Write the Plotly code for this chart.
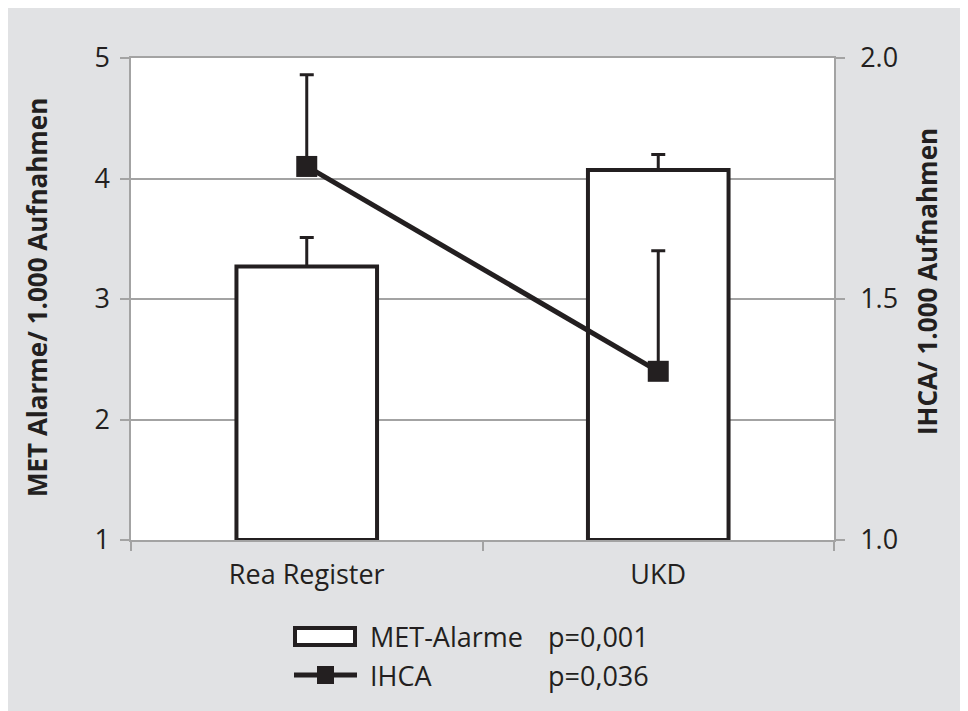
import numpy as np
import plotly.graph_objects as go

# ---- data ----
categories = ["Rea Register", "UKD"]
met_values = [3.27, 4.07]          # MET Alarme / 1.000 Aufnahmen (left axis)
met_err_plus = [0.24, 0.13]
ihca_values = [1.775, 1.35]        # IHCA / 1.000 Aufnahmen (right axis)
ihca_err_plus = [0.19, 0.25]
left_ticks = [1, 2, 3, 4, 5]
right_ticks = [1.0, 1.5, 2.0]
legend_labels = ["MET-Alarme", "IHCA"]
p_values = ["p=0,001", "p=0,036"]

DARK = "#231f20"
GRID = "#a3a3a3"
BG = "#e1e2e4"
FONT = "Open Sans"

OFF = 8                       # page body margin
W, H = 960, 703
L, R, T, B = 131, 834, 58, 540   # plot area in page pixels


def px(x):
    return (x - L) / (R - L)


def py(y):
    return (B - y) / (B - T)


base = left_ticks[0]
fig = go.Figure()
fig.add_trace(go.Bar(
    x=categories,
    y=np.array(met_values) - base,
    base=base,
    width=0.4,
    marker=dict(color="white", line=dict(color=DARK, width=4)),
    error_y=dict(type="data", symmetric=False, array=met_err_plus,
                 arrayminus=[0, 0], color=DARK, thickness=3, width=7),
    name=legend_labels[0],
    showlegend=False,
))
fig.add_trace(go.Scatter(
    x=categories,
    y=ihca_values,
    yaxis="y2",
    mode="lines+markers",
    line=dict(color=DARK, width=5),
    marker=dict(symbol="square", size=21, color=DARK),
    error_y=dict(type="data", symmetric=False, array=ihca_err_plus,
                 arrayminus=[0, 0], color=DARK, thickness=3, width=7),
    name=legend_labels[1],
    showlegend=False,
))

shapes = [
    # legend symbols
    dict(type="rect", xref="paper", yref="paper", x0=px(295), x1=px(355), y0=py(645), y1=py(628),
         fillcolor="white", line=dict(color=DARK, width=4)),
    dict(type="line", xref="paper", yref="paper", x0=px(294), x1=px(357), y0=py(675), y1=py(675),
         line=dict(color=DARK, width=5)),
    dict(type="rect", xref="paper", yref="paper", x0=px(317), x1=px(334), y0=py(684), y1=py(666),
         fillcolor=DARK, line=dict(width=0)),
]

annotations = []
for i, (lab, pv) in enumerate(zip(legend_labels, p_values)):
    yc = py(636 + i * 39)
    annotations.append(dict(text=lab, xref="paper", yref="paper", x=px(368), y=yc,
                            xanchor="left", yanchor="middle", showarrow=False,
                            font=dict(family=FONT, size=27, color=DARK)))
    annotations.append(dict(text=pv, xref="paper", yref="paper", x=px(546), y=yc,
                            xanchor="left", yanchor="middle", showarrow=False,
                            font=dict(family=FONT, size=27, color=DARK)))
annotations.append(dict(text="MET Alarme/ 1.000 Aufnahmen", xref="paper", yref="paper",
                        x=px(37), y=py(298), textangle=-90, xanchor="center", yanchor="middle",
                        showarrow=False, font=dict(family=FONT, size=26, color=DARK, weight="bold")))
annotations.append(dict(text="IHCA/ 1.000 Aufnahmen", xref="paper", yref="paper",
                        x=px(927), y=py(282), textangle=-90, xanchor="center", yanchor="middle",
                        showarrow=False, font=dict(family=FONT, size=26, color=DARK, weight="bold")))

tickfont = dict(family=FONT, size=27, color=DARK)
fig.update_layout(
    width=W, height=H,
    margin=dict(l=L - OFF, r=W - (R - OFF), t=T - OFF, b=H - (B - OFF), pad=0),
    paper_bgcolor=BG, plot_bgcolor="white",
    showlegend=False,
    shapes=shapes, annotations=annotations,
    xaxis=dict(type="category", range=[-0.5, 1.5], showgrid=False, showline=True,
               linecolor=GRID, linewidth=1.5, mirror=True, ticks="outside", tickson="boundaries",
               ticklen=9, tickwidth=1.5, tickcolor=GRID, tickfont=tickfont, ticklabelstandoff=10),
    yaxis=dict(range=[left_ticks[0], left_ticks[-1]], tickvals=left_ticks, showgrid=True,
               gridcolor=GRID, gridwidth=1.5, zeroline=False, showline=True, linecolor=GRID,
               linewidth=1.5, ticks="outside", ticklen=9, tickwidth=1.5, tickcolor=GRID,
               tickfont=tickfont, ticklabelstandoff=5),
    yaxis2=dict(range=[right_ticks[0], right_ticks[-1]], tickvals=right_ticks, tickformat=".1f",
                overlaying="y", side="right", showgrid=False, zeroline=False, showline=True,
                linecolor=GRID, linewidth=1.5, ticks="outside", ticklen=9, tickwidth=1.5,
                tickcolor=GRID, tickfont=tickfont, ticklabelstandoff=10),
)

fig.write_html("out.html")
